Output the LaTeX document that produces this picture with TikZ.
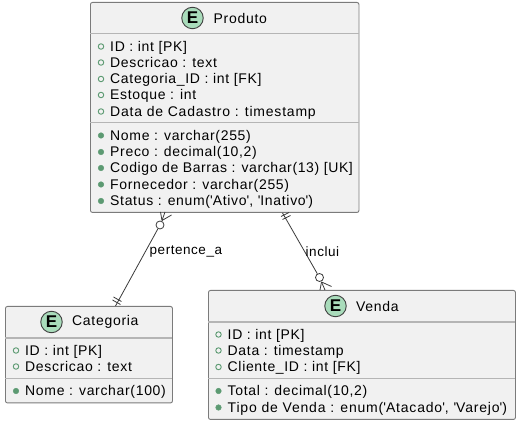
\documentclass[tikz,border=0pt]{standalone}
\usepackage{fontspec}
\usetikzlibrary{calc}
\setmainfont{Liberation Sans}
\definecolor{boxfill}{HTML}{F1F1F1}
\definecolor{boxline}{HTML}{7B7B7B}
\definecolor{sepline}{HTML}{B5B5B5}
\definecolor{iconfill}{HTML}{A9DCBB}
\definecolor{pubfield}{HTML}{5C9A72}
\definecolor{linkline}{HTML}{3A3A3A}
\newcommand{\rowtext}[1]{\fontsize{14}{14}\selectfont\addfontfeature{LetterSpace=4.8}#1}
\newcommand{\sq}{\textquotesingle}
\tikzset{
  entity/.style={draw=boxline,fill=boxfill,rounded corners=2pt,line width=0.9pt,minimum width=#1,inner sep=0pt,anchor=north west},
  sepa/.style={draw=sepline,line width=1.3pt},
  sepb/.style={draw=sepline,line width=1pt},
  badge/.style={circle,draw=black!75,fill=iconfill,line width=0.9pt,minimum size=21.5pt,inner sep=0pt,font=\fontsize{17}{17}\selectfont\bfseries},
  title/.style={anchor=west,inner sep=0pt,font=\fontsize{14}{14}\selectfont\addfontfeature{LetterSpace=5}},
  rowlab/.style={anchor=base west,inner sep=0pt},
  link/.style={draw=linkline,line width=0.8pt},
  zero/.style={circle,draw=linkline,fill=white,line width=0.8pt,minimum size=8pt,inner sep=0pt},
  linklab/.style={anchor=west,inner sep=0pt,font=\fontsize{13.5}{13.5}\selectfont\addfontfeature{LetterSpace=4}},
  field/.style={circle,draw=pubfield,fill=none,line width=0.9pt,minimum size=5.5pt,inner sep=0pt},
  method/.style={circle,draw=pubfield,fill=pubfield,line width=0.5pt,minimum size=5.5pt,inner sep=0pt},
}
\newcommand{\frow}[3]{\node[field] at (#1,#2) {}; \node[rowlab] at (#1+9,#2+4.8) {\rowtext{#3}};}
\newcommand{\mrow}[3]{\node[method] at (#1,#2) {}; \node[rowlab] at (#1+9,#2+4.8) {\rowtext{#3}};}
\begin{document}
\begin{tikzpicture}[x=1pt,y=-1pt]
\useasboundingbox (0,0) rectangle (523,422);
% entities
\node[entity=268.5pt,minimum height=210pt] (prod) at (90,2) {};
\node[entity=167pt,minimum height=96.5pt] (cat) at (5,306) {};
\node[entity=307pt,minimum height=129pt] (ven) at (208,290) {};
% separators
\draw[sepa] (90,33.5) -- (358.5,33.5);
\draw[sepb] (90,123) -- (358.5,123);
\draw[sepa] (5,338) -- (172,338);
\draw[sepb] (5,378.5) -- (172,378.5);
\draw[sepa] (208,322) -- (515,322);
\draw[sepb] (208,379) -- (515,379);
% Produto
\node[badge] (bp) at (192.5,18) {E};
\node[title] (tp) at (213.5,18) {Produto};
\frow{101}{46.5}{ID : int [PK]}
\frow{101}{62.5}{Descricao : text}
\frow{101}{79}{Categoria\_ID : int [FK]}
\frow{101}{95}{Estoque : int}
\frow{101}{111.5}{\addfontfeature{LetterSpace=5.6}Data de Cadastro : timestamp}
\mrow{101}{135.5}{Nome : varchar(255)}
\mrow{101}{152}{Preco : decimal(10,2)}
\mrow{101}{168}{\addfontfeature{LetterSpace=4.4}Codigo de Barras : varchar(13) [UK]}
\mrow{101}{184.5}{Fornecedor : varchar(255)}
\mrow{101}{201}{Status : enum(\sq Ativo\sq, \sq Inativo\sq)}
% Categoria
\node[badge] (bc) at (51.5,322) {E};
\node[title] (tc) at (72,322) {Categoria};
\frow{16}{350.5}{ID : int [PK]}
\frow{16}{366.5}{Descricao : text}
\mrow{16}{391}{Nome : varchar(100)}
% Venda
\node[badge] (bv) at (335.5,306) {E};
\node[title] (tv) at (356,306) {Venda};
\frow{218.5}{334.5}{ID : int [PK]}
\frow{218.5}{350.5}{Data : timestamp}
\frow{218.5}{367}{Cliente\_ID : int [FK]}
\mrow{218.5}{391}{Total : decimal(10,2)}
\mrow{218.5}{407.5}{\addfontfeature{LetterSpace=5.8}Tipo de Venda : enum(\sq Atacado\sq, \sq Varejo\sq)}
% connector: Produto - Categoria
\node[zero] (oa) at (160,225) {};
\coordinate (apexa) at (162,220.5);
\coordinate (catin) at ($(cat.north west)+(110.5,0)$);
\draw[link] (oa) -- (catin);
\draw[link] (apexa) -- (160.5,212);
\draw[link] (apexa) -- (165,212);
\draw[link] (apexa) -- (171.5,215);
\draw[link] (113.5,297) -- (121.5,301.5);
\draw[link] (112.5,300) -- (120.5,304.5);
\node[linklab] (la) at (149.5,251.5) {pertence\_a};
% connector: Produto - Venda
\node[zero] (ob) at (319.5,277.5) {};
\coordinate (prodin) at ($(prod.south west)+(192.5,0)$);
\coordinate (apexb) at (321.5,282);
\draw[link] (prodin) -- (ob);
\draw[link] (apexb) -- (320,290);
\draw[link] (apexb) -- (325,290);
\draw[link] (apexb) -- (331.5,286.5);
\draw[link] (281,216.5) -- (289,212.5);
\draw[link] (282.5,219.5) -- (290.5,215.5);
\node[linklab] (lb) at (305.5,251.5) {inclui};
\end{tikzpicture}
\end{document}
